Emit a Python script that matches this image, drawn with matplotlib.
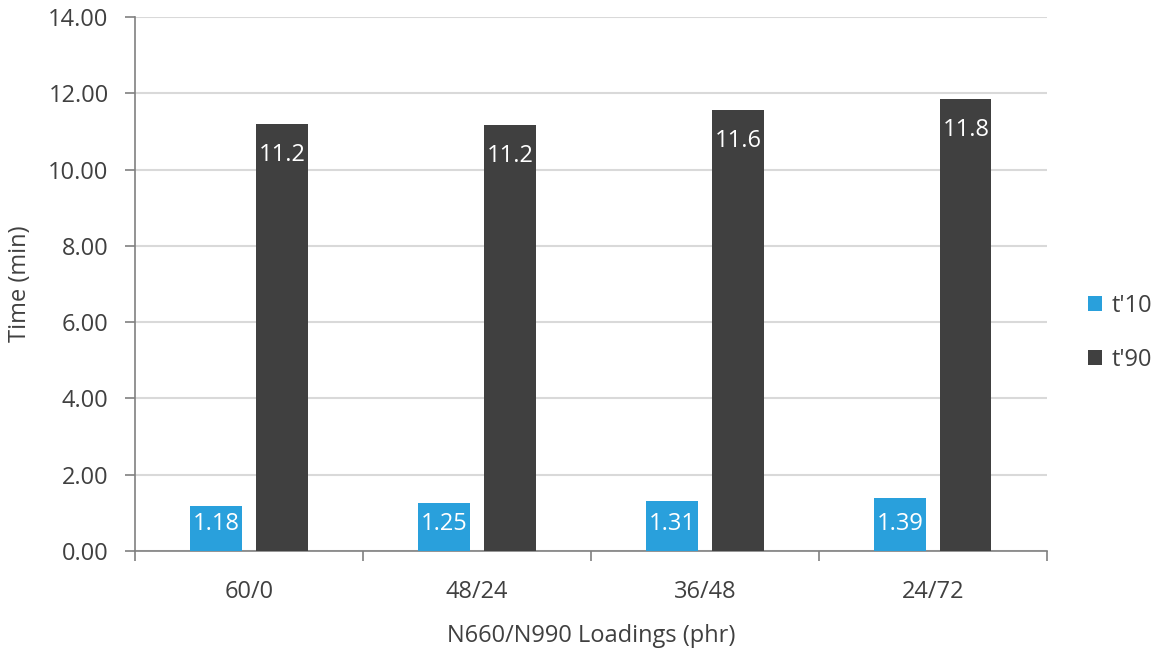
import matplotlib.pyplot as plt
import numpy as np

loadings = ['60/0', '48/24', '36/48', '24/72']
t10 = [1.18, 1.25, 1.31, 1.39]
t90 = [11.19, 11.16, 11.56, 11.84]
series_names = ["t'10", "t'90"]

blue = '#29A0DC'
dark = '#404040'
txt = '#404040'
fs = 17

plt.rcParams['font.family'] = ['Open Sans', 'DejaVu Sans']

fig = plt.figure(figsize=(11.62, 6.5), dpi=100)
ax = fig.add_axes([0.1162, 0.1523, 0.7848, 0.8215])

x = np.arange(len(loadings))
w = 0.224
off = 0.1447
b1 = ax.bar(x - off, t10, w, color=blue, label=series_names[0], zorder=3)
b2 = ax.bar(x + off, t90, w, color=dark, label=series_names[1], zorder=3)

# short bars: label sits just above the base, tall bars: just under the top
for r, v in zip(b1, t10):
    ax.annotate('%.2f' % v, (r.get_x() + r.get_width() / 2, 0),
                xytext=(0, 19.5), textcoords='offset points',
                ha='center', va='center', color='white', fontsize=fs, zorder=4)
for r, v in zip(b2, t90):
    ax.annotate('%.1f' % v, (r.get_x() + r.get_width() / 2, v),
                xytext=(0, -22), textcoords='offset points',
                ha='center', va='center', color='white', fontsize=fs, zorder=4)

ax.set_xlim(-0.5, len(loadings) - 0.5)
ax.set_ylim(0, 14)
ax.set_yticks(np.arange(0, 14.01, 2))
ax.set_yticklabels(['%.2f' % v for v in np.arange(0, 14.01, 2)])
ax.yaxis.grid(True, color='#D9D9D9', linewidth=1.5, zorder=0)
ax.set_axisbelow(True)

ax.set_xticks(x)
ax.set_xticklabels(loadings)
ax.set_xticks(np.arange(-0.5, len(loadings)), minor=True)
ax.tick_params(axis='x', which='major', length=0, pad=21, labelsize=fs, labelcolor=txt)
ax.tick_params(axis='x', which='minor', length=7, width=1.2, color='#808080')
ax.tick_params(axis='y', length=7, width=1.2, color='#808080', labelsize=fs, labelcolor=txt, pad=12)

for s in ['top', 'right']:
    ax.spines[s].set_visible(False)
for s in ['left', 'bottom']:
    ax.spines[s].set_color('#808080')
    ax.spines[s].set_linewidth(1.2)

ax.set_ylabel('Time (min)', fontsize=fs, color=txt, labelpad=12)
ax.set_xlabel('N660/N990 Loadings (phr)', fontsize=fs, color=txt, labelpad=14)

leg = fig.legend(handles=[b1, b2], loc='center left', bbox_to_anchor=(0.918, 0.488),
                 frameon=False, fontsize=fs, handlelength=0.6, handleheight=0.6,
                 handletextpad=0.4, labelspacing=1.25)
for t in leg.get_texts():
    t.set_color(txt)

fig.savefig('out.png', dpi=100)
